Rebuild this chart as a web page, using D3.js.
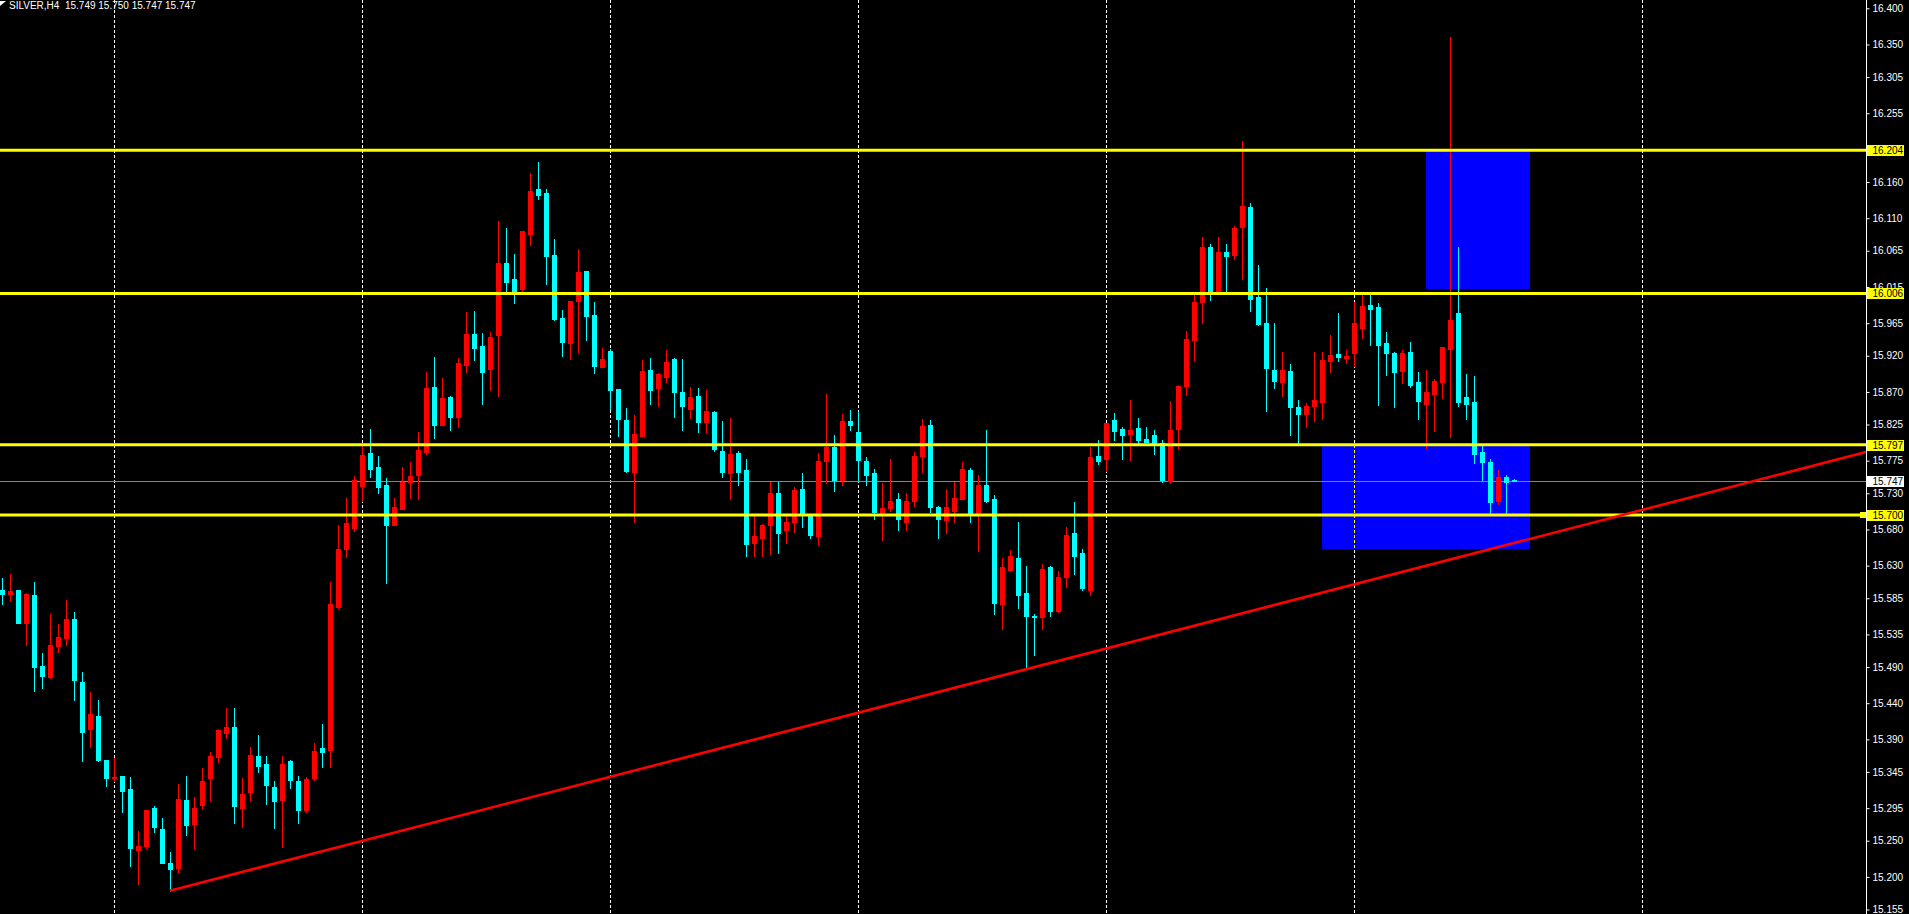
<!DOCTYPE html>
<html>
<head>
<meta charset="utf-8">
<script src="https://cdn.jsdelivr.net/npm/d3@7/dist/d3.min.js"></script>
<style>
  html, body { margin: 0; padding: 0; background: #000; overflow: hidden; }
  svg { display: block; }
</style>
</head>
<body>
<svg id="chart" width="1909" height="914"></svg>
<script>
// ---------------- DATA ----------------
const titleText = "SILVER,H4  15.749 15.750 15.747 15.747";

const openP = [
15.596,15.591,15.596,15.551,15.589,15.492,15.476,15.519,15.530,15.556,
15.469,15.404,15.423,15.362,15.337,15.340,15.321,15.237,15.243,15.295,
15.266,15.219,15.213,15.306,15.273,15.299,15.337,15.366,15.399,15.407,
15.295,15.317,15.367,15.356,15.324,15.306,15.360,15.333,15.292,15.337,
15.378,15.375,15.573,15.653,15.682,15.740,15.785,15.767,15.741,15.686,
15.708,15.745,15.755,15.787,15.877,15.825,15.863,15.835,15.907,15.950,
15.933,15.902,15.948,16.048,16.026,16.012,16.088,16.150,16.145,16.059,
15.972,15.937,15.995,16.037,15.976,15.904,15.926,15.874,15.831,15.759,
15.809,15.900,15.875,15.890,15.915,15.870,15.846,15.864,15.828,15.842,
15.789,15.758,15.785,15.762,15.661,15.668,15.686,15.731,15.679,15.690,
15.736,15.698,15.671,15.774,15.794,15.748,15.830,15.814,15.774,15.758,
15.702,15.709,15.722,15.691,15.720,15.781,15.824,15.711,15.693,15.706,
15.722,15.762,15.700,15.742,15.722,15.577,15.624,15.640,15.592,15.561,
15.559,15.628,15.568,15.614,15.675,15.647,15.596,15.781,15.778,15.831,
15.819,15.812,15.820,15.805,15.810,15.799,15.747,15.819,15.878,15.942,
15.994,16.070,16.008,16.063,16.059,16.098,16.125,16.001,15.965,15.901,
15.884,15.899,15.849,15.839,15.850,15.856,15.913,15.922,15.917,15.924,
15.958,15.990,15.987,15.937,15.924,15.899,15.925,15.884,15.853,15.867,
15.884,15.930,15.979,15.863,15.856,15.787,15.773,15.719,15.752,15.749];

const highP = [
15.613,15.618,15.597,15.592,15.607,15.509,15.563,15.550,15.582,15.566,
15.483,15.455,15.444,15.362,15.364,15.340,15.338,15.263,15.292,15.298,
15.281,15.234,15.328,15.340,15.310,15.350,15.372,15.405,15.433,15.434,
15.336,15.379,15.396,15.367,15.332,15.367,15.361,15.340,15.338,15.385,
15.411,15.607,15.686,15.723,15.754,15.795,15.819,15.781,15.751,15.723,
15.766,15.773,15.814,15.897,15.918,15.889,15.864,15.917,15.980,15.982,
15.951,15.953,16.106,16.096,16.060,16.092,16.172,16.188,16.150,16.081,
15.983,15.995,16.067,16.037,15.994,15.931,15.929,15.874,15.848,15.838,
15.914,15.917,15.896,15.928,15.917,15.915,15.877,15.875,15.872,15.843,
15.830,15.834,15.789,15.777,15.702,15.687,15.745,15.745,15.702,15.738,
15.758,15.698,15.785,15.867,15.810,15.839,15.845,15.842,15.780,15.763,
15.744,15.778,15.731,15.731,15.787,15.832,15.831,15.713,15.736,15.745,
15.773,15.765,15.755,15.817,15.727,15.640,15.651,15.691,15.629,15.563,
15.632,15.629,15.622,15.683,15.718,15.653,15.794,15.803,15.827,15.841,
15.821,15.859,15.834,15.821,15.817,15.803,15.857,15.879,15.954,16.004,
16.084,16.074,16.084,16.074,16.099,16.217,16.131,16.045,16.013,15.965,
15.925,15.908,15.859,15.855,15.925,15.925,15.948,15.979,15.928,15.994,
16.007,16.004,15.993,15.953,15.925,15.928,15.939,15.897,15.901,15.888,
15.932,16.361,16.070,15.895,15.892,15.795,15.777,15.762,15.755,15.750];

const lowP = [
15.577,15.581,15.551,15.520,15.457,15.461,15.475,15.511,15.520,15.444,
15.360,15.380,15.360,15.326,15.333,15.290,15.215,15.190,15.240,15.262,
15.219,15.181,15.205,15.258,15.239,15.294,15.305,15.359,15.392,15.275,
15.269,15.305,15.345,15.301,15.268,15.241,15.323,15.274,15.290,15.334,
15.352,15.352,15.571,15.642,15.678,15.719,15.752,15.730,15.606,15.686,
15.708,15.723,15.722,15.784,15.806,15.824,15.817,15.821,15.897,15.914,
15.853,15.873,15.864,16.008,15.993,16.009,16.073,16.136,16.019,15.969,
15.919,15.915,15.925,15.942,15.896,15.904,15.847,15.809,15.759,15.691,
15.808,15.853,15.850,15.884,15.835,15.817,15.834,15.814,15.813,15.788,
15.752,15.722,15.741,15.644,15.643,15.644,15.646,15.648,15.662,15.676,
15.683,15.668,15.658,15.744,15.733,15.741,15.817,15.748,15.742,15.694,
15.665,15.706,15.679,15.679,15.712,15.760,15.704,15.668,15.675,15.690,
15.722,15.690,15.650,15.718,15.563,15.543,15.622,15.572,15.488,15.507,
15.543,15.561,15.566,15.601,15.618,15.597,15.590,15.770,15.761,15.803,
15.778,15.776,15.799,15.801,15.784,15.745,15.744,15.791,15.866,15.913,
15.965,15.997,16.008,16.009,16.054,16.026,15.982,15.962,15.843,15.875,
15.864,15.810,15.798,15.821,15.830,15.832,15.897,15.913,15.910,15.906,
15.944,15.935,15.852,15.893,15.849,15.882,15.877,15.832,15.792,15.816,
15.861,15.808,15.850,15.832,15.772,15.748,15.701,15.715,15.700,15.747];

const closeP = [
15.591,15.595,15.551,15.591,15.490,15.478,15.520,15.531,15.556,15.472,
15.400,15.425,15.362,15.337,15.338,15.319,15.240,15.243,15.292,15.269,
15.219,15.211,15.307,15.272,15.295,15.333,15.367,15.403,15.407,15.298,
15.315,15.368,15.353,15.327,15.305,15.356,15.334,15.292,15.335,15.374,
15.373,15.577,15.653,15.689,15.748,15.783,15.763,15.738,15.686,15.711,
15.745,15.754,15.790,15.875,15.824,15.861,15.835,15.910,15.950,15.931,
15.897,15.946,16.048,16.022,16.009,16.092,16.148,16.142,16.058,15.971,
15.939,15.995,16.036,15.975,15.906,15.915,15.873,15.832,15.761,15.812,
15.899,15.873,15.895,15.911,15.870,15.850,15.863,15.828,15.843,15.791,
15.759,15.784,15.759,15.660,15.671,15.686,15.730,15.675,15.690,15.734,
15.700,15.672,15.774,15.794,15.748,15.830,15.824,15.776,15.755,15.704,
15.709,15.720,15.694,15.720,15.781,15.823,15.711,15.694,15.711,15.724,
15.763,15.700,15.741,15.719,15.579,15.628,15.643,15.589,15.561,15.559,
15.625,15.567,15.614,15.673,15.644,15.599,15.780,15.774,15.827,15.816,
15.810,15.817,15.803,15.801,15.798,15.748,15.817,15.878,15.943,15.994,
16.070,16.008,16.063,16.058,16.096,16.127,15.998,15.964,15.903,15.885,
15.900,15.849,15.839,15.850,15.859,15.914,15.921,15.918,15.919,15.965,
15.989,15.984,15.935,15.924,15.897,15.924,15.879,15.857,15.870,15.885,
15.932,15.969,15.856,15.853,15.784,15.773,15.718,15.752,15.745,15.747];

// price axis tick labels
const priceTicks = [16.400,16.350,16.305,16.255,16.160,16.110,16.065,16.015,15.965,
  15.920,15.870,15.825,15.775,15.730,15.680,15.630,15.585,15.535,15.490,15.440,15.390,
  15.345,15.295,15.250,15.200,15.155];

// vertical grid positions (bar index)
const gridBars = [14, 45, 76, 107, 138, 169, 205];

// horizontal levels (yellow)
const levels = [16.204, 16.006, 15.797, 15.700];
const bidPrice = 15.747;

// rectangles: [startBar, endBar], [topPrice, bottomPrice]
const zoneBars = [[178, 191], [165, 191]];
const zonePrices = [[16.204, 16.012], [15.797, 15.653]];

// trend line points: [bar], [price]
const trendBars = [21, 233];
const trendPrices = [15.181, 15.787];

// ---------------- DRAW ----------------
const W = 1909, H = 914;
const axisX = 1866;
const svg = d3.select("#chart");

const x = d3.scaleLinear().domain([0, 233]).range([2, axisX]);
const y = d3.scaleLinear().domain([15.155, 16.400]).range([909.5, 8.3]);

svg.append("rect").attr("width", W).attr("height", H).attr("fill", "#000");

const plot = svg.append("g");

// zones (background)
zoneBars.forEach((b, k) => {
  const p = zonePrices[k];
  plot.append("rect")
    .attr("x", Math.round(x(b[0])))
    .attr("y", Math.round(y(p[0])))
    .attr("width", Math.round(x(b[1])) - Math.round(x(b[0])))
    .attr("height", Math.round(y(p[1])) - Math.round(y(p[0])))
    .attr("fill", "#0000ff");
});

// vertical grid
gridBars.forEach(g => {
  const gx = Math.round(x(g)) + 0.5;
  plot.append("line")
    .attr("x1", gx).attr("x2", gx).attr("y1", 0).attr("y2", H)
    .attr("stroke", "#ffffff").attr("stroke-width", 1)
    .attr("stroke-dasharray", "3,2");
  zoneBars.forEach((b, k) => {
    if (g > b[0] && g < b[1]) {
      const p = zonePrices[k];
      plot.append("line")
        .attr("x1", gx).attr("x2", gx)
        .attr("y1", Math.round(y(p[0]))).attr("y2", Math.round(y(p[1])))
        .attr("stroke", "#0000ff").attr("stroke-width", 1);
      plot.append("line")
        .attr("x1", gx).attr("x2", gx)
        .attr("y1", Math.round(y(p[0]))).attr("y2", Math.round(y(p[1])))
        .attr("stroke", "#ffff00").attr("stroke-width", 1)
        .attr("stroke-dasharray", "3,2");
    }
  });
});

// bid line
plot.append("line")
  .attr("x1", 0).attr("x2", axisX)
  .attr("y1", Math.round(y(bidPrice)) + 0.5).attr("y2", Math.round(y(bidPrice)) + 0.5)
  .attr("stroke", "#778899").attr("stroke-width", 1);

// candles
const bars = d3.range(openP.length).map(i => ({
  i, o: openP[i], h: highP[i], l: lowP[i], c: closeP[i]
}));
const cg = plot.append("g");
bars.forEach(d => {
  const up = d.c >= d.o;
  const col = up ? "#ff0000" : "#00ffff";
  const cx = Math.round(x(d.i));
  const yh = Math.round(y(d.h)), yl = Math.round(y(d.l));
  const yt = Math.round(y(Math.max(d.o, d.c))), yb = Math.round(y(Math.min(d.o, d.c)));
  cg.append("rect")
    .attr("x", cx).attr("y", yh).attr("width", 1).attr("height", Math.max(1, yl - yh + 1))
    .attr("fill", col);
  cg.append("rect")
    .attr("x", cx - 2).attr("y", yt).attr("width", 5).attr("height", Math.max(1, yb - yt + 1))
    .attr("fill", col);
});

// level lines
levels.forEach(v => {
  plot.append("line")
    .attr("x1", 0).attr("x2", axisX)
    .attr("y1", y(v)).attr("y2", y(v))
    .attr("stroke", "#ffff00").attr("stroke-width", 3);
});
// small marker on the 15.700 line near the axis
plot.append("rect")
  .attr("x", axisX - 6).attr("y", y(15.700) - 3).attr("width", 6).attr("height", 6)
  .attr("fill", "#ffff00");

// trend line (ray to axis)
plot.append("line")
  .attr("x1", x(trendBars[0])).attr("y1", y(trendPrices[0]))
  .attr("x2", x(trendBars[1])).attr("y2", y(trendPrices[1]))
  .attr("stroke", "#ff0000").attr("stroke-width", 2.6);

// right price axis area
svg.append("rect").attr("x", axisX).attr("y", 0).attr("width", W - axisX).attr("height", H).attr("fill", "#000");
svg.append("line")
  .attr("x1", axisX + 0.5).attr("x2", axisX + 0.5).attr("y1", 0).attr("y2", H)
  .attr("stroke", "#ffffff").attr("stroke-width", 1);

const axis = d3.axisRight(y)
  .tickValues(priceTicks)
  .tickSize(3)
  .tickPadding(3)
  .tickFormat(d3.format(".3f"));
const ag = svg.append("g").attr("transform", `translate(${axisX + 0.5},0)`).call(axis);
ag.select(".domain").remove();
ag.selectAll(".tick line").attr("stroke", "#ffffff");
ag.selectAll(".tick text")
  .attr("fill", "#ffffff")
  .style("font-family", "'Liberation Sans', Arial, sans-serif")
  .style("font-size", "10px");

// level labels
const labelFont = "'Liberation Sans', Arial, sans-serif";
function priceLabel(v, bg) {
  const yy = y(v);
  svg.append("rect")
    .attr("x", axisX + 1).attr("y", Math.round(yy) - 5).attr("width", 37).attr("height", 11)
    .attr("fill", bg);
  svg.append("text")
    .attr("x", axisX + 6.5).attr("y", Math.round(yy) + 0.5)
    .attr("dy", "0.35em")
    .attr("fill", "#000")
    .style("font-family", labelFont).style("font-size", "10px")
    .text(d3.format(".3f")(v));
}
levels.forEach(v => priceLabel(v, "#ffff00"));
priceLabel(bidPrice, "#ffffff");

// title
svg.append("path")
  .attr("d", "M0,1 L6,1 L0,6 Z")
  .attr("fill", "#ffffff");
svg.append("text")
  .attr("x", 9).attr("y", 8.5)
  .attr("fill", "#ffffff")
  .style("font-family", labelFont).style("font-size", "10px")
  .attr("xml:space", "preserve")
  .style("white-space", "pre")
  .text(titleText);
</script>
</body>
</html>
